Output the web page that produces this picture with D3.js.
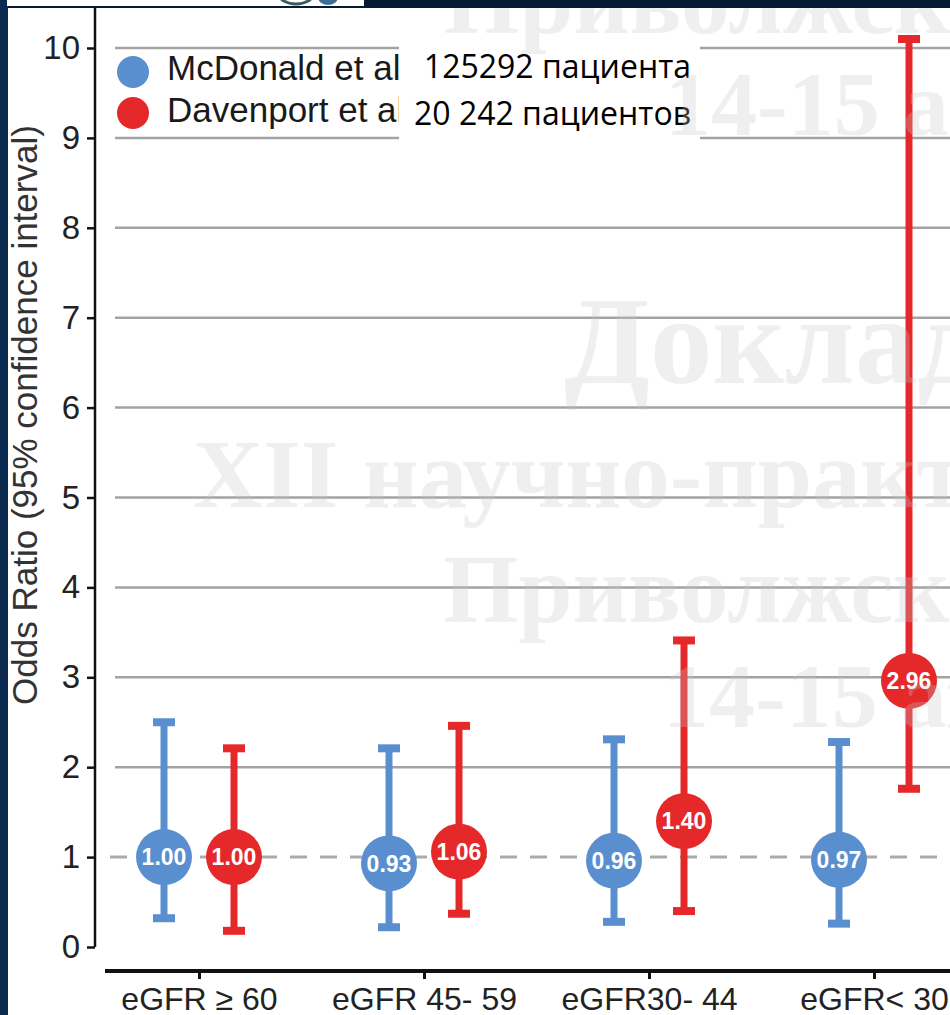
<!DOCTYPE html>
<html><head><meta charset="utf-8">
<script src="https://cdn.jsdelivr.net/npm/d3@7"></script>
<style>body{margin:0;background:#fff}svg{display:block}</style>
</head><body>
<script>
// ---- data ----
const categories = ["eGFR \u2265 60", "eGFR 45- 59", "eGFR30- 44", "eGFR< 30"];
const seriesNames = ["McDonald et al", "Davenport et al"];
const mcdonaldOR   = [1.00, 0.93, 0.96, 0.97];
const mcdonaldLow  = [0.32, 0.22, 0.28, 0.26];
const mcdonaldHigh = [2.50, 2.21, 2.31, 2.28];
const davenportOR   = [1.00, 1.06, 1.40, 2.96];
const davenportLow  = [0.18, 0.37, 0.40, 1.76];
const davenportHigh = [2.21, 2.46, 3.41, 10.10];
const yTicks = [0,1,2,3,4,5,6,7,8,9,10];
const patientCounts = ["125292 пациента", "20 242 пациентов"];
const watermarkLines = [
  {t:"Приволжского", x:444, y:33, s:97},
  {t:"14-15 апреля", x:665, y:135, s:92},
  {t:"Доклад на", x:564, y:383, s:125},
  {t:"XII научно-практической", x:193, y:507, s:97},
  {t:"Приволжского", x:443, y:622, s:97},
  {t:"14-15 апреля", x:663, y:727, s:92}
];

const colors = {"McDonald et al":"#5a8fcf", "Davenport et al":"#e5292b"};
const W = 950, H = 1015;
const svg = d3.select("body").append("svg").attr("width", W).attr("height", H);
const SANS = "'Liberation Sans', Arial, sans-serif";

svg.append("rect").attr("width", W).attr("height", H).attr("fill", "#fff");

const y = d3.scaleLinear().domain([0, 10]).range([947, 48]);
const x = d3.scalePoint().domain(categories).range([199, 874]);
const dodge = d3.scalePoint().domain(seriesNames).range([-35, 35]);

const rows = [];
categories.forEach((c, i) => {
  rows.push({cat:c, s:seriesNames[0], or:mcdonaldOR[i], lo:mcdonaldLow[i], hi:mcdonaldHigh[i]});
  rows.push({cat:c, s:seriesNames[1], or:davenportOR[i], lo:davenportLow[i], hi:davenportHigh[i]});
});
const px = d => x(d.cat) + dodge(d.s);

// gridlines
svg.append("g").selectAll("line").data(yTicks.filter(v => v >= 2)).join("line")
  .attr("x1", 115).attr("x2", W).attr("y1", d => y(d)).attr("y2", d => y(d))
  .attr("stroke", "#a3a3a3").attr("stroke-width", 2.5);

// reference dashed line at 1
svg.append("line").attr("x1", 110).attr("x2", W).attr("y1", y(1)).attr("y2", y(1))
  .attr("stroke", "#ababab").attr("stroke-width", 3).attr("stroke-dasharray", "17,13");

// error bars
const eb = svg.append("g");
eb.selectAll("line.bar").data(rows).join("line").attr("class", "bar")
  .attr("x1", px).attr("x2", px).attr("y1", d => y(d.lo)).attr("y2", d => y(d.hi))
  .attr("stroke", d => colors[d.s]).attr("stroke-width", 7);
["lo", "hi"].forEach(k => {
  eb.selectAll("line.cap" + k).data(rows).join("line").attr("class", "cap" + k)
    .attr("x1", d => px(d) - 11).attr("x2", d => px(d) + 11)
    .attr("y1", d => y(d[k])).attr("y2", d => y(d[k]))
    .attr("stroke", d => colors[d.s]).attr("stroke-width", 8);
});

// points
svg.append("g").selectAll("circle").data(rows).join("circle")
  .attr("cx", px).attr("cy", d => y(d.or)).attr("r", 28)
  .attr("fill", d => colors[d.s]);
svg.append("g").selectAll("text").data(rows).join("text")
  .attr("x", px).attr("y", d => y(d.or)).attr("dy", "0.36em")
  .attr("text-anchor", "middle").attr("fill", "#fff")
  .attr("font-family", SANS).attr("font-weight", "bold").attr("font-size", 23)
  .text(d => d.or.toFixed(2));

// y axis
svg.append("line").attr("x1", 95).attr("x2", 95).attr("y1", 8).attr("y2", y(0))
  .attr("stroke", "#111").attr("stroke-width", 2.5);
const ya = svg.append("g").attr("transform", "translate(95,0)")
  .call(d3.axisLeft(y).tickValues(yTicks).tickSize(8).tickPadding(7).tickFormat(d3.format("d")));
ya.select(".domain").remove();
ya.selectAll(".tick line").attr("stroke", "#111").attr("stroke-width", 2.5);
ya.selectAll(".tick text").attr("font-family", SANS).attr("font-size", 33).attr("fill", "#222");

// y title
svg.append("text").attr("transform", `translate(37,415) rotate(-90)`)
  .attr("text-anchor", "middle").attr("font-family", SANS).attr("font-size", 35).attr("fill", "#333")
  .text("Odds Ratio (95% confidence interval)");

// x axis
svg.append("line").attr("x1", 105).attr("x2", W).attr("y1", 971).attr("y2", 971)
  .attr("stroke", "#111").attr("stroke-width", 4);
const xa = svg.append("g").attr("transform", "translate(0,971)")
  .call(d3.axisBottom(x).tickSize(8).tickPadding(0));
xa.select(".domain").remove();
xa.selectAll(".tick line").attr("stroke", "#111").attr("stroke-width", 3);
xa.selectAll(".tick text").attr("y", 39).attr("dy", 0)
  .attr("font-family", SANS).attr("font-size", 32).attr("fill", "#222");

// legend
const lg = svg.append("g");
seriesNames.forEach((s, i) => {
  lg.append("circle").attr("cx", 133).attr("cy", 72 + i * 41).attr("r", 16).attr("fill", colors[s]);
  lg.append("text").attr("x", 167).attr("y", 80 + i * 42).attr("font-family", SANS)
    .attr("font-size", 35).attr("fill", "#1a1a1a").text(s);
});

// overlay box with patient counts
svg.append("rect").attr("x", 399).attr("y", 42).attr("width", 301).attr("height", 106).attr("fill", "#fff");
svg.append("g").selectAll("text").data(patientCounts).join("text")
  .attr("x", 691).attr("y", (d, i) => 78 + i * 47).attr("text-anchor", "end")
  .attr("font-family", "'Open Sans', 'Noto Sans', sans-serif").attr("font-size", 32).attr("fill", "#000")
  .text(d => d);

// watermark
svg.append("g").selectAll("text").data(watermarkLines).join("text")
  .attr("x", d => d.x).attr("y", d => d.y).attr("font-size", d => d.s)
  .attr("font-family", "'Liberation Serif', 'DejaVu Serif', serif").attr("font-weight", "bold")
  .attr("fill", "#c4c4c4").attr("fill-opacity", 0.28).text(d => d.t);

// slide frame
svg.append("rect").attr("x", 0).attr("y", 0).attr("width", W).attr("height", 8).attr("fill", "#061a31");
svg.append("rect").attr("x", 0).attr("y", 0).attr("width", 8).attr("height", H).attr("fill", "#0b2a4f");
const topBox = svg.append("g");
topBox.append("clipPath").attr("id", "tb").append("rect").attr("x", 7).attr("y", 0).attr("width", 357).attr("height", 6);
topBox.append("rect").attr("x", 7).attr("y", 0).attr("width", 357).attr("height", 6).attr("fill", "#fff");
const lgc = topBox.append("g").attr("clip-path", "url(#tb)");
lgc.append("ellipse").attr("cx", 296).attr("cy", -6).attr("rx", 17).attr("ry", 10)
  .attr("fill", "none").attr("stroke", "#3c5a63").attr("stroke-width", 3);
lgc.append("ellipse").attr("cx", 328).attr("cy", -3).attr("rx", 10).attr("ry", 8).attr("fill", "#3d6d98");
</script>
</body></html>
